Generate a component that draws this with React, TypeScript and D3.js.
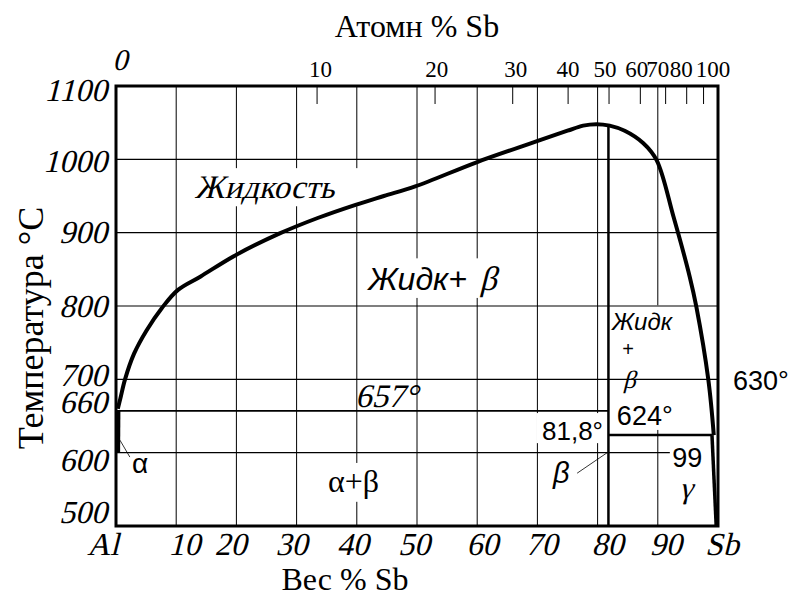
import React from "react";
import * as d3 from "d3";

// Weight-% axis (bottom) and vertical grid
const weightGrid = [10, 20, 30, 40, 50, 60, 70, 80, 90];
const weightLabelValues = [0, 10, 20, 30, 40, 50, 60, 70, 80, 90, 100];
const weightLabelTexts = ["Al", "10", "20", "30", "40", "50", "60", "70", "80", "90", "Sb"];

// Atomic-% axis (top): tick positions given as the equivalent weight-%
const atomicTickWeight = [33.4, 53.0, 65.9, 75.1, 81.9, 87.1, 91.3, 94.8, 97.6];
const atomicLabelTexts = ["0", "10", "20", "30", "40", "50", "60", "70", "80", "100"];
const atomicLabelWeight = [0, 33.4, 53.0, 65.9, 75.1, 81.9, 87.1, 91.3, 94.8, 100];

// Temperature axis (°C)
const tempLabels = [1100, 1000, 900, 800, 700, 660, 600, 500];
const tempGrid = [1000, 900, 800, 700, 600];

// Liquidus: weight-% Sb vs temperature
const liquidusWeight = [0.3, 0.7, 1.5, 3.0, 5.1, 7.6, 10.3, 14.0, 19.8, 27.2, 33.5, 39.8, 44.5, 49.7, 59.9, 69.7, 75.0, 77.6, 79.8, 82.0, 84.5, 87.6, 89.8, 92.6, 95.3, 96.4, 98.4, 99.3];
const liquidusTemp = [660, 673, 700, 735, 767, 797, 822, 840, 869, 899, 920, 938, 950, 963, 996, 1024, 1039, 1046, 1048, 1046, 1039, 1022, 999, 922, 840, 799, 699, 624];

// Invariant points
const alEutecticTemp = 657;
const sbEutecticTemp = 624;
const compoundWeight = 81.8;
const sbSolubilityWeight = 99;
const sbMeltTemp = 630;

// Solid solution boundaries
const alphaSolvusWeight = [0.4, 0.35];
const alphaSolvusTemp = [657, 600];
const gammaSolvusWeight = [99, 99.7];
const gammaSolvusTemp = [624, 500];

const W = 791;
const H = 597;

const serif = "'Liberation Serif', 'Times New Roman', serif";
const sans = "'Liberation Sans', Arial, sans-serif";

const x = d3.scaleLinear().domain([0, 100]).range([116, 718]);
const y = d3.scaleLinear().domain([500, 1100]).range([526, 86]);

// Label background patches that interrupt the grid, in data units [w0, w1, t0, t1]
const labelPatches: [number, number, number, number][] = [
  [12.3, 40.5, 988, 936],
  [41.4, 64.3, 865, 811],
  [82.1, 97.8, 801, 631],
  [69.8, 81.1, 654, 613],
  [34.9, 44.7, 586, 533],
  [92.0, 99.0, 617, 574],
];

// Left tick-label baseline shifts and bottom/top label shifts (px)
const tempLabelDy = [15, 13, 10, 11, 7, 4, 18, -3];
const weightLabelDx = [-13, 8, -6, -5, -4, -3, 5, 4, 10, 8, 4];
const atomicLabelDx = [4, 3.5, 1.7, 3, 0, -4, -3.5, -8, -5.4, -5];

function interp(ws: number[], ts: number[], w: number): number {
  for (let i = 0; i < ws.length - 1; i++) {
    if (w >= ws[i] && w <= ws[i + 1]) {
      const f = (w - ws[i]) / (ws[i + 1] - ws[i]);
      return ts[i] + f * (ts[i + 1] - ts[i]);
    }
  }
  return ts[ts.length - 1];
}

// Slanted serif text (Times-like italic drawn by shearing the upright face)
function SerifItalic(props: {
  x: number;
  y: number;
  size: number;
  anchor?: string;
  children: React.ReactNode;
}) {
  return (
    <g transform={`translate(${props.x},${props.y}) skewX(-14)`}>
      <text x={0} y={0} fontFamily={serif} fontSize={props.size} textAnchor={props.anchor || "start"}>
        {props.children}
      </text>
    </g>
  );
}

export default function App() {
  const liquidus = liquidusWeight.map((w, i) => [w, liquidusTemp[i]] as [number, number]);
  const linePath = d3
    .line<[number, number]>()
    .x((d) => x(d[0]))
    .y((d) => y(d[1]))
    .curve(d3.curveCatmullRom.alpha(0.5));
  const straight = d3
    .line<[number, number]>()
    .x((d) => x(d[0]))
    .y((d) => y(d[1]));

  const compoundTop = interp(liquidusWeight, liquidusTemp, compoundWeight);
  const alpha = alphaSolvusWeight.map((w, i) => [w, alphaSolvusTemp[i]] as [number, number]);
  const gamma = gammaSolvusWeight.map((w, i) => [w, gammaSolvusTemp[i]] as [number, number]);

  const hGridEnd = (t: number) => (t === 600 ? 92.0 : 100);

  return (
    <div style={{ position: "fixed", left: 0, top: 0, width: W, height: H, background: "#fff" }}>
      <svg width={W} height={H} viewBox={`0 0 ${W} ${H}`} style={{ display: "block" }}>
        <rect x={0} y={0} width={W} height={H} fill="#fff" />

        {/* vertical grid */}
        {weightGrid.map((w) => (
          <line key={"vg" + w} x1={x(w)} x2={x(w)} y1={y(1100)} y2={y(500)} stroke="#000" strokeWidth={1} />
        ))}

        {/* atomic-% ticks */}
        {atomicTickWeight.map((w, i) => (
          <line key={"at" + i} x1={x(w)} x2={x(w)} y1={y(1100)} y2={y(1100) + 18} stroke="#000" strokeWidth={1} />
        ))}

        {/* label backgrounds */}
        {labelPatches.map((p, i) => (
          <rect
            key={"lp" + i}
            x={x(p[0])}
            y={y(p[2])}
            width={x(p[1]) - x(p[0])}
            height={y(p[3]) - y(p[2])}
            fill="#fff"
          />
        ))}

        {/* horizontal grid */}
        {tempGrid.map((t) => (
          <line key={"hg" + t} x1={x(0)} x2={x(hGridEnd(t))} y1={y(t)} y2={y(t)} stroke="#000" strokeWidth={1.2} />
        ))}

        {/* eutectic horizontals */}
        <line x1={x(0)} x2={x(compoundWeight)} y1={y(alEutecticTemp)} y2={y(alEutecticTemp)} stroke="#000" strokeWidth={1.8} />
        <line x1={x(compoundWeight)} x2={x(sbSolubilityWeight)} y1={y(sbEutecticTemp)} y2={y(sbEutecticTemp)} stroke="#000" strokeWidth={2.5} />

        {/* AlSb compound */}
        <line x1={x(compoundWeight)} x2={x(compoundWeight)} y1={y(compoundTop)} y2={y(500)} stroke="#000" strokeWidth={2.5} />

        {/* solid solution boundaries */}
        <path d={straight(alpha) || ""} fill="none" stroke="#000" strokeWidth={4} />
        <path d={straight(gamma) || ""} fill="none" stroke="#000" strokeWidth={3.5} />

        {/* liquidus */}
        <path d={linePath(liquidus) || ""} fill="none" stroke="#000" strokeWidth={4} strokeLinejoin="round" />

        {/* frame */}
        <rect x={x(0)} y={y(1100)} width={x(100) - x(0)} height={y(500) - y(1100)} fill="none" stroke="#000" strokeWidth={3} />

        {/* leader lines */}
        <line x1={x(0.66)} y1={y(617)} x2={x(2.3)} y2={y(594)} stroke="#000" strokeWidth={0.8} />
        <line x1={x(76.6)} y1={y(572)} x2={x(81.6)} y2={y(600)} stroke="#000" strokeWidth={0.8} />

        {/* top axis */}
        <text x={417} y={37} textAnchor="middle" fontFamily={serif} fontSize={32}>
          Атомн % Sb
        </text>
        {atomicLabelTexts.map((s, i) =>
          i === 0 ? (
            <SerifItalic key={"al" + i} x={x(atomicLabelWeight[i]) + atomicLabelDx[i]} y={70} size={30} anchor="middle">
              {s}
            </SerifItalic>
          ) : (
            <text
              key={"al" + i}
              x={x(atomicLabelWeight[i]) + atomicLabelDx[i]}
              y={77}
              textAnchor="middle"
              fontFamily={serif}
              fontSize={23}
            >
              {s}
            </text>
          )
        )}

        {/* left axis */}
        {tempLabels.map((t, i) => (
          <SerifItalic key={"tl" + t} x={107} y={y(t) + tempLabelDy[i]} size={32} anchor="end">
            {t}
          </SerifItalic>
        ))}
        <text
          transform={`translate(43, 328) rotate(-90)`}
          textAnchor="middle"
          fontFamily={serif}
          fontSize={36}
        >
          Температура °C
        </text>

        {/* bottom axis */}
        {weightLabelTexts.map((s, i) => (
          <SerifItalic key={"wl" + i} x={x(weightLabelValues[i]) + weightLabelDx[i]} y={555} size={32} anchor="middle">
            {s}
          </SerifItalic>
        ))}
        <text x={345} y={590} textAnchor="middle" fontFamily={serif} fontSize={32}>
          Вес % Sb
        </text>

        {/* phase labels */}
        <SerifItalic x={x(13.1)} y={y(947)} size={33}>
          Жидкость
        </SerifItalic>
        <text x={x(41.9)} y={y(822)} fontFamily={sans} fontStyle="italic" fontSize={32}>
          Жидк+
        </text>
        <SerifItalic x={x(60.4)} y={y(822)} size={34}>
          β
        </SerifItalic>
        <SerifItalic x={x(39.7)} y={y(662)} size={33}>
          {alEutecticTemp}°
        </SerifItalic>
        <text x={x(35.2)} y={y(546)} fontFamily={serif} fontSize={32}>
          α+β
        </text>
        <text x={x(2.66)} y={y(572)} fontFamily={sans} fontSize={28}>
          α
        </text>
        <text x={x(80.9)} y={y(617)} textAnchor="end" fontFamily={sans} fontSize={26}>
          81,8°
        </text>
        <text x={x(72.6)} y={y(559)} fontFamily={sans} fontStyle="italic" fontSize={29}>
          β
        </text>
        <text x={x(82.4)} y={y(767)} fontFamily={sans} fontStyle="italic" fontSize={24}>
          Жидк
        </text>
        <text x={x(84.1)} y={y(732)} fontFamily={sans} fontSize={20}>
          +
        </text>
        <SerifItalic x={x(84.2)} y={y(688)} size={25}>
          β
        </SerifItalic>
        <text x={x(83.2)} y={y(638)} fontFamily={sans} fontSize={27}>
          {sbEutecticTemp}°
        </text>
        <text x={x(92.4)} y={y(581)} fontFamily={sans} fontSize={27}>
          {sbSolubilityWeight}
        </text>
        <SerifItalic x={x(93.6)} y={y(538)} size={30}>
          γ
        </SerifItalic>
        <text x={x(102.5)} y={y(685)} fontFamily={sans} fontSize={27}>
          {sbMeltTemp}°
        </text>
      </svg>
    </div>
  );
}
